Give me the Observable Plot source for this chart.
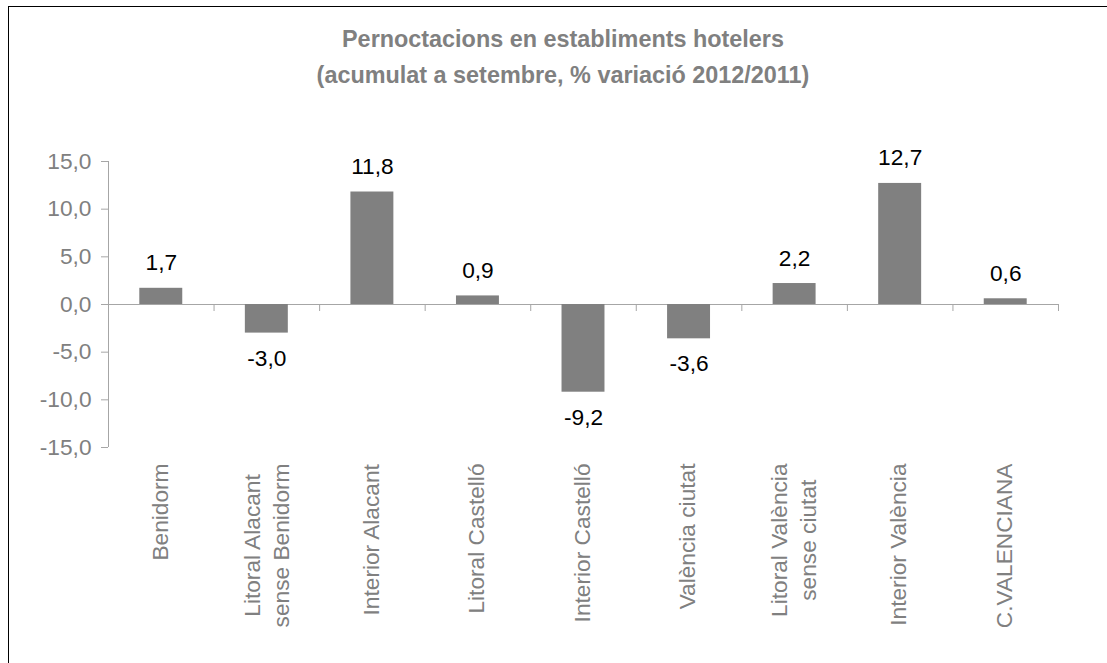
<!DOCTYPE html>
<html>
<head>
<meta charset="utf-8">
<script src="https://cdn.jsdelivr.net/npm/d3@7"></script>
<script src="https://cdn.jsdelivr.net/npm/@observablehq/plot@0.6"></script>
<style>
  html, body { margin: 0; padding: 0; background: #fff; }
  #wrap { position: relative; width: 1107px; height: 663px; overflow: hidden; font-family: "Liberation Sans", Arial, sans-serif; }
  #border { position: absolute; left: 8px; top: 6px; right: -10px; bottom: -10px; border-top: 1px solid #000; border-left: 1px solid #000; pointer-events: none; }
  #title { position: absolute; left: 0; top: 21px; width: 1126px; text-align: center; font-weight: bold; font-size: 23.4px; line-height: 36px; color: #808080; }
  #chart { position: absolute; left: 0; top: 0; }
</style>
</head>
<body>
<div id="wrap">
  <div id="chart"></div>
  <div id="title">Pernoctacions en establiments hotelers<br>(acumulat a setembre, % variació 2012/2011)</div>
  <div id="border"></div>
</div>
<script>
const categories = [
  "Benidorm",
  "Litoral Alacant\nsense Benidorm",
  "Interior Alacant",
  "Litoral Castelló",
  "Interior Castelló",
  "València ciutat",
  "Litoral València\nsense ciutat",
  "Interior València",
  "C.VALENCIANA"
];
const values = [1.7, -3.0, 11.8, 0.9, -9.2, -3.6, 2.2, 12.7, 0.6];
const yTicks = [-15, -10, -5, 0, 5, 10, 15];
const yDomain = [-15, 15];

const W = 1107, H = 663, mL = 108, mR = 49, mT = 161, mB = 216;
const FS = 22.7;
const step = (W - mL - mR) / categories.length;
const yPix = d3.scaleLinear(yDomain, [H - mB, mT]);
const fmt = v => v.toFixed(1).replace(".", ",");

const axisGray = "#a6a6a6";
const textGray = "#808080";

const ctx = document.createElement("canvas").getContext("2d");
ctx.font = FS + "px 'Liberation Sans'";
const labelTop = 463;
const labelRows = [];
categories.forEach(c => {
  const lines = c.split("\n");
  const w = d3.max(lines, l => ctx.measureText(l).width);
  lines.forEach((l, i) => labelRows.push({cat: c, text: l, i, n: lines.length, y: yPix.invert(labelTop + w / 2)}));
});

const data = categories.map((c, i) => ({cat: c, value: values[i]}));
const tickEnd = yPix.invert(yPix(0) + 7);

const labelOpts = {x: "cat", y: "y", text: "text", rotate: -90, textAnchor: "middle", lineAnchor: "middle", fontSize: FS, fill: textGray};

const chart = Plot.plot({
  width: W, height: H,
  marginLeft: mL, marginRight: mR, marginTop: mT, marginBottom: mB,
  style: {fontFamily: "'Liberation Sans', Arial, sans-serif", fontSize: FS + "px", background: "transparent", overflow: "visible"},
  x: {domain: categories, paddingInner: 0.593, paddingOuter: 0.2965, round: false, axis: null},
  y: {domain: yDomain},
  marks: [
    Plot.ruleY([0], {stroke: axisGray}),
    Plot.ruleX([categories[0]], {x: d => d, y1: yDomain[0], y2: yDomain[1], dx: -step / 2, stroke: axisGray}),
    Plot.ruleX(categories, {x: d => d, y1: 0, y2: tickEnd, dx: step / 2, stroke: axisGray}),
    Plot.barY(data, {x: "cat", y: "value", fill: "#808080"}),
    Plot.text(data.filter(d => d.value >= 0), {x: "cat", y: "value", text: d => fmt(d.value), lineAnchor: "bottom", dy: -18, fontSize: FS, fill: "#000"}),
    Plot.text(data.filter(d => d.value < 0), {x: "cat", y: "value", text: d => fmt(d.value), lineAnchor: "bottom", dy: 32.5, fontSize: FS, fill: "#000"}),
    Plot.text(labelRows.filter(d => d.n === 1), {...labelOpts, dx: -1}),
    Plot.text(labelRows.filter(d => d.n === 2 && d.i === 0), {...labelOpts, dx: -14.5}),
    Plot.text(labelRows.filter(d => d.n === 2 && d.i === 1), {...labelOpts, dx: 14.5}),
    Plot.axisY({ticks: yTicks, tickFormat: fmt, tickSize: 7, tickPadding: 10, fontSize: FS, stroke: axisGray, fill: textGray, label: null})
  ]
});
document.getElementById("chart").appendChild(chart);
</script>
</body>
</html>
